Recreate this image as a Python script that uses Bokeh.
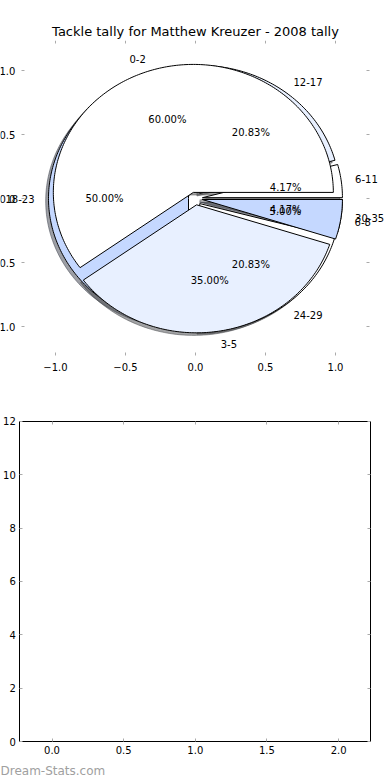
import numpy as np
from bokeh.plotting import figure
from bokeh.models import ColumnDataSource, LabelSet, Label, LinearAxis, FixedTicker, Range1d
from bokeh.core.properties import value
from bokeh.layouts import column
from bokeh.embed import file_html
from bokeh.resources import INLINE

# ---------------- data ----------------
title_text = "Tackle tally for Matthew Kreuzer - 2008 tally"
inner_labels = ["0-2", "3-5", "6-8"]
inner_values = [60.0, 35.0, 5.0]
outer_labels = ["6-11", "12-17", "18-23", "24-29", "30-35"]
outer_values = [4.17, 20.83, 50.0, 20.83, 4.17]
slice_colors = ["#FFFFFF", "#E8F0FF", "#C5D8FF"]
pie_ticks = [-1.0, -0.5, 0.0, 0.5, 1.0]
bar_x_ticks = [0.0, 0.5, 1.0, 1.5, 2.0]
bar_y_ticks = [0, 2, 4, 6, 8, 10, 12]
watermark = "Dream-Stats.com"

# pie axes limits and empty-axes limits
pie_xlim = (-1.244, 1.244)
pie_ylim = (-1.227, 1.234)
bar_xlim = (-0.225, 2.225)
bar_ylim = (0, 12)

# ---------------- style / layout ----------------
EXPLODE = 0.05
SHADOW_DX, SHADOW_DY = -0.02, -0.02
FONT = "DejaVu Sans"
TICK_COLOR = "#aaaaaa"
W = 390
H1, H2 = 395, 385
TOP1 = 40                      # title panel height of the pie figure
PIE_SX, PIE_CX = 140.0, 195.0  # px per unit, page x of 0
PIE_SY, PIE_CY = 128.0, 198.0  # px per unit, page y of 0
BAR_SX, BAR_X0 = 143.3, 51.5
BAR_SY, BAR_Y0 = 26.667, 741.0 - H1


def darken(hexcol, f=0.3):
    h = hexcol.lstrip("#")
    r, g, b = (int(h[i:i + 2], 16) for i in (0, 2, 4))
    return "#%02x%02x%02x" % (int(r * f), int(g * f), int(b * f))


def pie_geometry(values, labels):
    vals = np.asarray(values, float)
    frac = vals / vals.sum()
    edges = np.concatenate([[0.0], np.cumsum(frac)]) * 360.0
    out = dict(xs=[], ys=[], sxs=[], sys=[], color=[], shadow=[],
               lx=[], ly=[], lt=[], lalign=[], px=[], py=[], pt=[])
    for i in range(len(vals)):
        t1, t2 = edges[i], edges[i + 1]
        mid = np.radians((t1 + t2) / 2.0)
        cx, cy = EXPLODE * np.cos(mid), EXPLODE * np.sin(mid)
        n = max(2, int(abs(t2 - t1))) + 1
        th = np.radians(np.linspace(t1, t2, n))
        xs = [cx] + list(cx + np.cos(th)) + [cx]
        ys = [cy] + list(cy + np.sin(th)) + [cy]
        out["xs"].append(xs)
        out["ys"].append(ys)
        out["sxs"].append([v + SHADOW_DX for v in xs])
        out["sys"].append([v + SHADOW_DY for v in ys])
        c = slice_colors[i % len(slice_colors)]
        out["color"].append(c)
        out["shadow"].append(darken(c))
        lx = cx + 1.1 * np.cos(mid)
        ly = cy + 1.1 * np.sin(mid)
        out["lx"].append(lx)
        out["ly"].append(ly)
        out["lt"].append(labels[i])
        out["lalign"].append("left" if lx > 0 else "right")
        out["px"].append(cx + 0.6 * np.cos(mid))
        out["py"].append(cy + 0.6 * np.sin(mid))
        out["pt"].append("%.2f%%" % (frac[i] * 100))
    return out


def make_axis(ticks, loc, show_labels, standoff=5, line_color=None, bounds=None):
    ax = LinearAxis(ticker=FixedTicker(ticks=ticks), fixed_location=loc)
    ax.minor_tick_line_color = None
    ax.major_tick_in = 3
    ax.major_tick_out = 0
    ax.major_tick_line_color = TICK_COLOR
    ax.axis_line_color = line_color
    ax.axis_line_width = 1
    if bounds is not None:
        ax.bounds = bounds
    ax.major_label_text_font = FONT
    ax.major_label_text_font_size = "10px"
    ax.major_label_standoff = standoff
    ax.major_label_text_color = "#000000" if show_labels else None
    return ax


def minus_labels(ticks):
    return {t: ("%.1f" % t).replace("-", "\u2212") for t in ticks}


# ---------------- pie figure ----------------
p1 = figure(width=W, height=H1,
            x_range=Range1d(-PIE_CX / PIE_SX, (W - PIE_CX) / PIE_SX),
            y_range=Range1d(-(H1 - PIE_CY) / PIE_SY, (PIE_CY - TOP1) / PIE_SY),
            x_axis_location=None, y_axis_location=None,
            output_backend="svg", toolbar_location=None,
            min_border_left=0, min_border_right=0,
            min_border_top=TOP1, min_border_bottom=0)
p1.grid.visible = False
p1.outline_line_color = None
p1.background_fill_color = "white"
p1.border_fill_color = "white"
p1.title.text = title_text
p1.title.align = "center"
p1.title.text_font = FONT
p1.title.text_font_size = "13px"
p1.title.text_font_style = "normal"
p1.title.text_color = "black"
p1.title.standoff = 4

ax = make_axis(pie_ticks, pie_ylim[0], True, standoff=7)
ax.major_label_overrides = minus_labels(pie_ticks)
p1.add_layout(ax, "below")
ax = make_axis(pie_ticks, pie_xlim[0], True, standoff=6)
ax.major_label_overrides = minus_labels(pie_ticks)
p1.add_layout(ax, "left")
p1.add_layout(make_axis(pie_ticks, pie_ylim[1], False), "above")
p1.add_layout(make_axis(pie_ticks, pie_xlim[1], False), "right")

pies = [pie_geometry(outer_values, outer_labels),
        pie_geometry(inner_values, inner_labels)]

# shadows first (below all wedges)
for g in pies:
    p1.patches(xs=g["sxs"], ys=g["sys"], fill_color=g["shadow"], fill_alpha=0.5,
               line_color=g["shadow"], line_alpha=0.5, line_width=1)
for g in pies:
    p1.patches(xs=g["xs"], ys=g["ys"], fill_color=g["color"],
               line_color="black", line_width=1)
for g in pies:
    for align in ("left", "right"):
        idx = [i for i, a in enumerate(g["lalign"]) if a == align]
        src = ColumnDataSource(dict(x=[g["lx"][i] for i in idx],
                                    y=[g["ly"][i] for i in idx],
                                    t=[g["lt"][i] for i in idx]))
        p1.add_layout(LabelSet(x="x", y="y", text="t", source=src,
                               text_align=align, text_baseline="middle",
                               text_font=value(FONT), text_font_size="10px",
                               text_color="black"))
    src = ColumnDataSource(dict(x=g["px"], y=g["py"], t=g["pt"]))
    p1.add_layout(LabelSet(x="x", y="y", text="t", source=src,
                           text_align="center", text_baseline="middle",
                           text_font=value(FONT), text_font_size="10px",
                           text_color="black"))

# ---------------- empty axes figure ----------------
p2 = figure(width=W, height=H2,
            x_range=Range1d(-BAR_X0 / BAR_SX, (W - BAR_X0) / BAR_SX),
            y_range=Range1d(-(H2 - BAR_Y0) / BAR_SY, BAR_Y0 / BAR_SY),
            x_axis_location=None, y_axis_location=None,
            output_backend="svg", toolbar_location=None,
            min_border_left=0, min_border_right=0,
            min_border_top=0, min_border_bottom=0)
p2.grid.visible = False
p2.outline_line_color = None
p2.background_fill_color = "white"
p2.border_fill_color = "white"

ax = make_axis(bar_x_ticks, bar_ylim[0], True, standoff=4, line_color="black", bounds=bar_xlim)
ax.major_label_overrides = {t: "%.1f" % t for t in bar_x_ticks}
p2.add_layout(ax, "below")
p2.add_layout(make_axis(bar_y_ticks, bar_xlim[0], True, standoff=4, line_color="black",
                        bounds=bar_ylim), "left")
p2.add_layout(make_axis(bar_x_ticks, bar_ylim[1], False, line_color="black",
                        bounds=bar_xlim), "above")
p2.add_layout(make_axis(bar_y_ticks, bar_xlim[1], False, line_color="black",
                        bounds=bar_ylim), "right")

# watermark at the lower-left corner of the page
p2.add_layout(Label(x=p2.x_range.start, y=p2.y_range.start + 10.0 / BAR_SY,
                    text=watermark, text_font=FONT, text_font_size="12px",
                    text_color="#a0a0a0", text_baseline="middle", text_align="left"))

layout = column(p1, p2, spacing=0)
open("out.html", "w").write(file_html(layout, INLINE))
